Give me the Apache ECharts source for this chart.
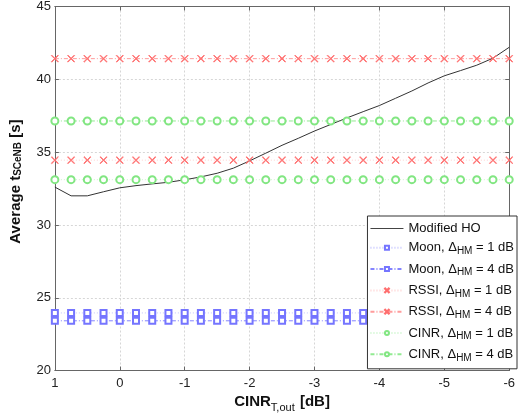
<!DOCTYPE html>
<html><head><meta charset="utf-8">
<script src="https://cdn.jsdelivr.net/npm/echarts@6/dist/echarts.min.js"></script>
<style>html,body{margin:0;padding:0;background:#fff}#c{width:518px;height:418px}</style>
</head><body><div id="c"></div>
<script>
// ---- data ----
const xValues = [1, 0.75, 0.5, 0.25, 0, -0.25, -0.5, -0.75, -1, -1.25, -1.5, -1.75, -2, -2.25, -2.5, -2.75, -3, -3.25, -3.5, -3.75, -4, -4.25, -4.5, -4.75, -5, -5.25, -5.5, -5.75, -6];
const modifiedHO = [32.6, 32.0, 32.0, 32.28, 32.55, 32.7, 32.82, 32.93, 33.1, 33.3, 33.55, 33.9, 34.4, 34.93, 35.47, 35.95, 36.45, 36.9, 37.35, 37.78, 38.2, 38.7, 39.2, 39.75, 40.24, 40.6, 40.97, 41.45, 42.2];
const moon1 = [23.96, 23.96, 23.96, 23.96, 23.96, 23.96, 23.96, 23.96, 23.96, 23.96, 23.96, 23.96, 23.96, 23.96, 23.96, 23.96, 23.96, 23.96, 23.96, 23.96, 23.96, 23.96, 23.96, 23.96, 23.96, 23.96, 23.96, 23.96, 23.96];
const moon4 = [23.42, 23.42, 23.42, 23.42, 23.42, 23.42, 23.42, 23.42, 23.42, 23.42, 23.42, 23.42, 23.42, 23.42, 23.42, 23.42, 23.42, 23.42, 23.42, 23.42, 23.42, 23.42, 23.42, 23.42, 23.42, 23.42, 23.42, 23.42, 23.42];
const rssi1 = [34.45, 34.45, 34.45, 34.45, 34.45, 34.45, 34.45, 34.45, 34.45, 34.45, 34.45, 34.45, 34.45, 34.45, 34.45, 34.45, 34.45, 34.45, 34.45, 34.45, 34.45, 34.45, 34.45, 34.45, 34.45, 34.45, 34.45, 34.45, 34.45];
const rssi4 = [41.42, 41.42, 41.42, 41.42, 41.42, 41.42, 41.42, 41.42, 41.42, 41.42, 41.42, 41.42, 41.42, 41.42, 41.42, 41.42, 41.42, 41.42, 41.42, 41.42, 41.42, 41.42, 41.42, 41.42, 41.42, 41.42, 41.42, 41.42, 41.42];
const cinr1 = [33.11, 33.11, 33.11, 33.11, 33.11, 33.11, 33.11, 33.11, 33.11, 33.11, 33.11, 33.11, 33.11, 33.11, 33.11, 33.11, 33.11, 33.11, 33.11, 33.11, 33.11, 33.11, 33.11, 33.11, 33.11, 33.11, 33.11, 33.11, 33.11];
const cinr4 = [37.14, 37.14, 37.14, 37.14, 37.14, 37.14, 37.14, 37.14, 37.14, 37.14, 37.14, 37.14, 37.14, 37.14, 37.14, 37.14, 37.14, 37.14, 37.14, 37.14, 37.14, 37.14, 37.14, 37.14, 37.14, 37.14, 37.14, 37.14, 37.14];
const seriesNames = ['Modified HO', 'Moon, ΔHM = 1 dB', 'Moon, ΔHM = 4 dB', 'RSSI, ΔHM = 1 dB', 'RSSI, ΔHM = 4 dB', 'CINR, ΔHM = 1 dB', 'CINR, ΔHM = 4 dB'];
const xTicks = {min: -6, max: 1, interval: 1};
const yTicks = {min: 20, max: 45, interval: 5};

// ---- chart ----
const FONT = 'Liberation Sans, Arial, sans-serif';
const X_PATH = 'path://M0.6,0L5,4.4L9.4,0L10,0.6L5.6,5L10,9.4L9.4,10L5,5.6L0.6,10L0,9.4L4.4,5L0,0.6Z';
const pair = arr => xValues.map((x, i) => [x, arr[i]]);
const DOTTED = [1, 2];
const DASHDOT = [4, 2, 1, 2];

function mk(name, arr, color, lineColor, type, symbol, size) {
  return {
    name, type: 'line', data: pair(arr), xAxisIndex: 0, yAxisIndex: 0,
    symbol: symbol || 'none', symbolSize: size || 4, showSymbol: !!symbol,
    lineStyle: {color: lineColor, width: 1, type: type},
    itemStyle: {color: color, borderColor: color, borderWidth: 0.9},
    emphasis: {disabled: true}, silent: true, z: 2
  };
}

const series = [
  mk(seriesNames[0], modifiedHO, '#333', '#333', 'solid'),
  mk(seriesNames[1], moon1, '#7575ff', 'rgba(90,90,255,0.35)', DOTTED, 'emptyRect', 6),
  mk(seriesNames[2], moon4, '#7575ff', 'rgba(80,80,255,0.7)', DASHDOT, 'emptyRect', 6),
  mk(seriesNames[3], rssi1, '#ff6e6e', 'rgba(255,100,100,0.3)', DOTTED, X_PATH, 7),
  mk(seriesNames[4], rssi4, '#ff6e6e', 'rgba(255,90,90,0.6)', DASHDOT, X_PATH, 7),
  mk(seriesNames[5], cinr1, '#82e682', 'rgba(110,230,110,0.35)', DOTTED, 'emptyCircle', 7),
  mk(seriesNames[6], cinr4, '#82e682', 'rgba(100,225,100,0.7)', DASHDOT, 'emptyCircle', 7)
];

const axisCommon = {
  axisLine: {show: true, onZero: false, lineStyle: {color: '#666', width: 1}},
  axisTick: {show: true, inside: true, length: 4, lineStyle: {color: '#666'}},
};
const gridLine = {show: true, lineStyle: {color: '#d6d6d6', type: [2, 2], width: 1}};

const chart = echarts.init(document.getElementById('c'), null, {renderer: 'canvas'});
chart.setOption({
  animation: false,
  backgroundColor: '#fff',
  textStyle: {fontFamily: FONT},
  grid: {left: 52, right: 1, top: 5, bottom: 45, containLabel: false},
  xAxis: [
    Object.assign({
      type: 'value', inverse: true, min: xTicks.min, max: xTicks.max, interval: xTicks.interval,
      position: 'bottom',
      axisLabel: {color: '#222', fontSize: 13, margin: 6, fontFamily: FONT},
      splitLine: gridLine,
      name: '{b|CINR}{s|T,out}{b| [dB]}', nameLocation: 'middle', nameGap: 17,
      nameTextStyle: {
        fontFamily: FONT,
        rich: {
          b: {fontSize: 15, fontWeight: 'bold', color: '#111', lineHeight: 22, fontFamily: FONT},
          s: {fontSize: 11, color: '#111', lineHeight: 22, verticalAlign: 'bottom', padding: [0, 1, 0, 0], fontFamily: FONT}
        }
      }
    }, axisCommon),
    Object.assign({
      type: 'value', inverse: true, min: xTicks.min, max: xTicks.max, interval: xTicks.interval,
      position: 'top', axisLabel: {show: false}, splitLine: {show: false}
    }, axisCommon)
  ],
  yAxis: [
    Object.assign({
      type: 'value', min: yTicks.min, max: yTicks.max, interval: yTicks.interval,
      position: 'left',
      axisLabel: {color: '#222', fontSize: 13, margin: 4, fontFamily: FONT},
      splitLine: gridLine,
      name: '{b|Average t}{s|SCeNB}{b| [s]}', nameLocation: 'middle', nameGap: 26,
      nameTextStyle: {
        fontFamily: FONT, padding: [0, 0, 0, 14],
        rich: {
          b: {fontSize: 15, fontWeight: 'bold', color: '#111', lineHeight: 20, fontFamily: FONT},
          s: {fontSize: 10, fontWeight: 'bold', color: '#111', lineHeight: 20, verticalAlign: 'bottom', padding: [0, 0, 2, 0], fontFamily: FONT}
        }
      }
    }, axisCommon),
    Object.assign({
      type: 'value', min: yTicks.min, max: yTicks.max, interval: yTicks.interval,
      position: 'right', axisLabel: {show: false}, splitLine: {show: false}
    }, axisCommon)
  ],
  legend: {
    orient: 'vertical', right: 1, top: 216,
    backgroundColor: '#fff', borderColor: '#333', borderWidth: 1, borderRadius: 0,
    padding: [6, 3, 6, 2], itemGap: 6.3, itemWidth: 33, itemHeight: 5,
    selectedMode: false, z: 10,
    data: seriesNames.map((n, i) => i === 0 ? {name: n, itemStyle: {opacity: 0}, lineStyle: {color: '#444', width: 1}} : n),
    textStyle: {
      fontFamily: FONT, fontSize: 13, color: '#111',
      rich: {
        t: {fontSize: 13, color: '#111', fontFamily: FONT},
        m: {fontSize: 13, color: '#111', lineHeight: 17, fontFamily: FONT},
        s: {fontSize: 10, color: '#111', lineHeight: 17, verticalAlign: 'bottom', fontFamily: FONT}
      }
    },
    formatter: function (name) {
      const parts = name.split('ΔHM');
      if (parts.length < 2) return '{t|' + name + '}';
      return '{m|' + parts[0] + 'Δ}{s|HM}{m|' + parts[1] + '}';
    }
  },
  series: series
});
</script>
</body></html>
